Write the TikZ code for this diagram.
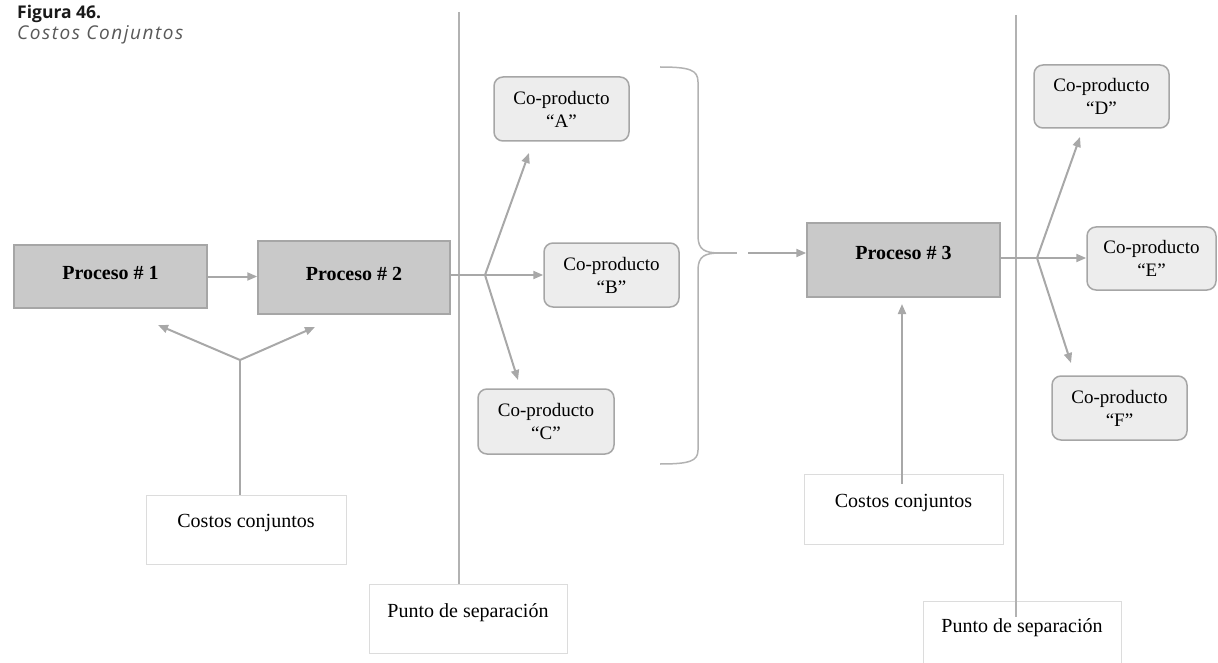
\documentclass[tikz,border=0pt]{standalone}
\usepackage{fontspec}
\setmainfont{Liberation Serif}
\newfontfamily\titlefont{Open Sans}
\newfontfamily\subtitlefont{Open Sans}[LetterSpace=8]
\usetikzlibrary{arrows.meta}
\definecolor{linegray}{HTML}{A8A8A8}
\definecolor{sepgray}{HTML}{B2B2B2}
\definecolor{procfill}{HTML}{C9C9C9}
\definecolor{procdraw}{HTML}{A6A6A6}
\definecolor{cofill}{HTML}{EDEDED}
\definecolor{lightbox}{HTML}{DCDCDC}
\tikzset{
  procbox/.style={draw=procdraw, fill=procfill, line width=1.5pt, inner sep=0pt},
  proctext/.style={font=\fontsize{20}{24}\selectfont\bfseries, inner sep=0pt},
  cobox/.style={draw=procdraw, fill=cofill, line width=1.5pt, rounded corners=9pt,
    align=center, inner sep=0pt, font=\fontsize{19}{23}\selectfont},
  plainbox/.style={draw=lightbox, line width=1pt, inner sep=0pt},
  plaintext/.style={font=\fontsize{20}{24}\selectfont, inner sep=0pt},
  conn/.style={draw=linegray, line width=2pt},
  arr/.style={conn, -{Triangle[length=10pt,width=8pt]}},
  sepline/.style={draw=sepgray, line width=1.5pt},
}
\begin{document}
\begin{tikzpicture}[x=1pt,y=-1pt]
\useasboundingbox (0,0) rectangle (1218,663);

% caption
\node[anchor=base west, inner sep=0pt, font=\titlefont\fontsize{17.5}{20}\selectfont\bfseries, text=black!90]
  (figtitle) at (17,19) {Figura 46.};
\node[anchor=base west, inner sep=0pt, font=\subtitlefont\fontsize{19}{22}\selectfont\itshape, text=black!65]
  (figsub) at (17,40) {Costos Conjuntos};

% separation lines
\node[plainbox, minimum width=198pt, minimum height=69pt] (pu1) at (468,618.5) {};
\node[plaintext] (pu1t) at ([yshift=6]pu1.center) {Punto de separación};
\node[plainbox, minimum width=198pt, minimum height=70pt] (pu2) at (1022,636) {};
\node[plaintext] (pu2t) at ([yshift=8]pu2.center) {Punto de separación};
\coordinate (sep1top) at (459,12);
\coordinate (sep2top) at (1016,15);
\draw[sepline] (sep1top) -- (sep1top |- pu1.north);
\draw[sepline] (sep2top) -- ([yshift=-16]sep2top |- pu2.north);

% process boxes
\node[procbox, minimum width=193pt, minimum height=63pt] (p1) at (110.5,276.5) {};
\node[proctext] (p1t) at ([yshift=4]p1.center) {Proceso \# 1};
\node[procbox, minimum width=192pt, minimum height=73pt] (p2) at (354,277.5) {};
\node[proctext] (p2t) at ([yshift=4]p2.center) {Proceso \# 2};
\node[procbox, minimum width=193pt, minimum height=74pt] (p3) at (903.5,260) {};
\node[proctext] (p3t) at ([yshift=7]p3.center) {Proceso \# 3};

% co-products
\node[cobox, minimum width=135pt, minimum height=64pt] (coA) at (561.5,109) {Co-producto\\“A”};
\node[cobox, minimum width=135pt, minimum height=64pt] (coB) at (611.5,275) {Co-producto\\“B”};
\node[cobox, minimum width=136pt, minimum height=65pt] (coC) at (546,421.5) {Co-producto\\“C”};
\node[cobox, minimum width=135pt, minimum height=63pt] (coD) at (1101.5,96.5) {Co-producto\\“D”};
\node[cobox, minimum width=129pt, minimum height=63pt] (coE) at (1151.5,258.5) {Co-producto\\“E”};
\node[cobox, minimum width=135pt, minimum height=64pt] (coF) at (1119.5,408) {Co-producto\\“F”};

% joint cost boxes
\node[plainbox, minimum width=200pt, minimum height=69pt] (cc1) at (246,529.5) {};
\node[plaintext] (cc1t) at ([yshift=6]cc1.center) {Costos conjuntos};
\node[plainbox, minimum width=199pt, minimum height=70pt] (cc2) at (903.5,509) {};
\node[plaintext] (cc2t) at ([yshift=6]cc2.center) {Costos conjuntos};

% process 1 -> process 2
\draw[arr] (p1.east) -- (p1.east -| p2.west);

% joint costs into processes 1 and 2
\coordinate (j1) at (240,360);
\coordinate (t1) at (158,325);
\coordinate (t2) at (315,327);
\draw[conn] (cc1.north -| j1) -- (j1);
\draw[arr] (j1) -- (t1);
\draw[arr] (j1) -- (t2);

% split after process 2
\coordinate (j2) at (485,275);
\coordinate (tA) at (529,153);
\coordinate (tC) at (518,380);
\draw[conn] (p2.east |- j2) -- (j2);
\draw[arr] (j2) -- (tA);
\draw[arr] (j2) -- (j2 -| coB.west);
\draw[arr] (j2) -- (tC);

% brace grouping A, B, C
\coordinate (brtip) at (720,253);
\draw[sepline] (660,67) .. controls (690,67) and (698,70) .. (698,82)
  -- (698,236) .. controls (698,250) and (705,253) .. (brtip)
  .. controls (705,253) and (698,256) .. (698,270)
  -- (698,450) .. controls (698,461) and (690,464) .. (660,464);
\draw[sepline] (brtip) -- (737,253);
\coordinate (gap) at (748,253);
\draw[arr] (gap) -- (gap -| p3.west);

% joint costs into process 3
\coordinate (c2s) at (902,484);
\coordinate (c2t) at (902,304);
\draw[arr] (c2s) -- (c2t);

% split after process 3
\coordinate (j3) at (1037,258);
\coordinate (tD) at (1080,137);
\coordinate (tF) at (1071,363);
\draw[conn] (p3.east |- j3) -- (j3);
\draw[arr] (j3) -- (tD);
\draw[arr] (j3) -- (j3 -| coE.west);
\draw[arr] (j3) -- (tF);
\end{tikzpicture}
\end{document}
